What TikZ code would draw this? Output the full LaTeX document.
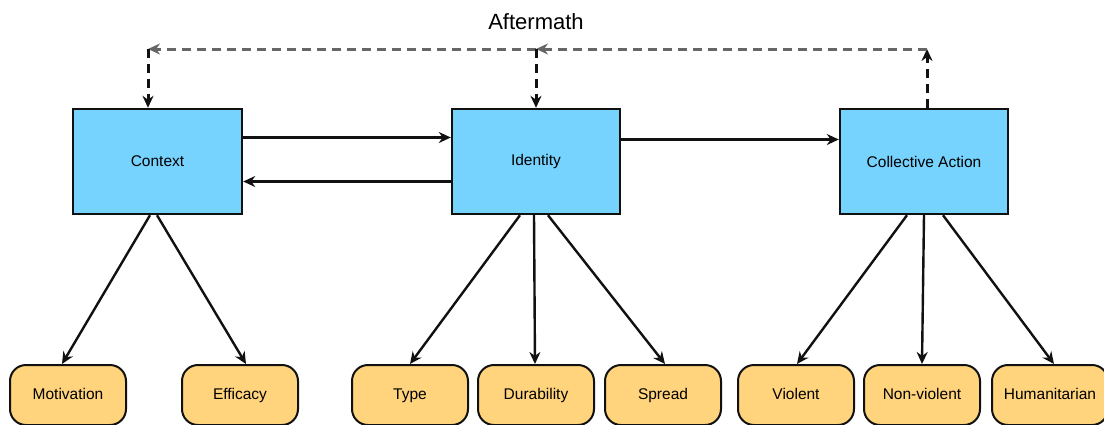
\documentclass[tikz,border=0pt]{standalone}
\usepackage{fontspec}
\setmainfont{Liberation Sans}
\usetikzlibrary{arrows.meta,positioning,calc}
\definecolor{ink}{HTML}{111111}
\definecolor{ink2}{HTML}{666666}
\definecolor{sky1}{HTML}{76D3FE}
\definecolor{gold1}{HTML}{FFD47C}

\tikzset{
  mainbox/.style={draw=ink,line width=2.4pt,fill=sky1,minimum width=169pt,minimum height=105pt,inner sep=0pt,
    font=\fontsize{15.5}{18}\selectfont},
  leafbox/.style={draw=ink,line width=2pt,fill=gold1,rounded corners=16pt,minimum width=116pt,minimum height=60pt,
    inner sep=0pt,text height=11pt,text depth=3pt,font=\fontsize{15.5}{18}\selectfont},
  link/.style={draw=ink,line width=2.4pt,-{Stealth[length=12pt,width=11pt]}},
  backlink/.style={draw=ink2,line width=3pt,dash pattern=on 9pt off 6pt,-{Stealth[length=12pt,width=11pt]}}
}

\begin{document}
\begin{tikzpicture}[x=1pt,y=-1pt]
  \useasboundingbox (0,0) rectangle (1104,424);
  % main boxes
  \node[mainbox] (context) at (157.5,161.5) {Context};
  \node[mainbox,minimum width=168pt] (identity) at (536,161.5) {Identity};
  \node[mainbox,minimum width=168pt] (action) at (924,161.5) {Collective Action};
  % leaves
  \node[leafbox] (motivation) at (68,395) {Motivation};
  \node[leafbox] (efficacy) at (240,395) {Efficacy};
  \node[leafbox] (type) at (410,395) {Type};
  \node[leafbox] (durability) at (536,395) {Durability};
  \node[leafbox] (spread) at (663,395) {Spread};
  \node[leafbox] (violent) at (796,395) {Violent};
  \node[leafbox] (nonviolent) at (922,395) {Non-violent};
  \node[leafbox] (humanitarian) at (1050,395) {Humanitarian};
  % aftermath loop
  \node[font=\fontsize{22}{26}\selectfont] (aftermath) at (536,22) {Aftermath};
  \coordinate (cornerL) at (148,49);
  \coordinate (cornerM) at (536,49);
  \coordinate (cornerR) at (927,49);
  \draw[backlink,draw=ink] (action.north -| cornerR) -- (cornerR);
  \draw[backlink] (cornerR) -- (cornerM);
  \draw[backlink] (cornerM) -- (cornerL);
  \draw[backlink,draw=ink] (cornerL) -- (context.north -| cornerL);
  \draw[backlink,draw=ink] (cornerM) -- (identity.north);
  % between main boxes
  \draw[link] ($(context.east)+(0,-24)$) -- ($(identity.west)+(0,-24)$);
  \draw[link] ($(identity.west)+(0,20)$) -- ($(context.east)+(0,20)$);
  \draw[link] ($(identity.east)+(0,-22)$) -- ($(action.west)+(0,-22)$);
  % down to leaves
  \draw[link] ($(context.south)+(-7.5,0)$) -- ($(motivation.north)+(-6,0)$);
  \draw[link] ($(context.south)+(-0.5,0)$) -- ($(efficacy.north)+(6,0)$);
  \draw[link] ($(identity.south)+(-16,0)$) -- (type.north);
  \draw[link] ($(identity.south)+(-2,0)$) -- ($(durability.north)+(-1,0)$);
  \draw[link] ($(identity.south)+(12,0)$) -- ($(spread.north)+(2,0)$);
  \draw[link] ($(action.south)+(-17,0)$) -- ($(violent.north)+(1,0)$);
  \draw[link] (action.south) -- (nonviolent.north);
  \draw[link] ($(action.south)+(19,0)$) -- ($(humanitarian.north)+(4,0)$);
\end{tikzpicture}
\end{document}
